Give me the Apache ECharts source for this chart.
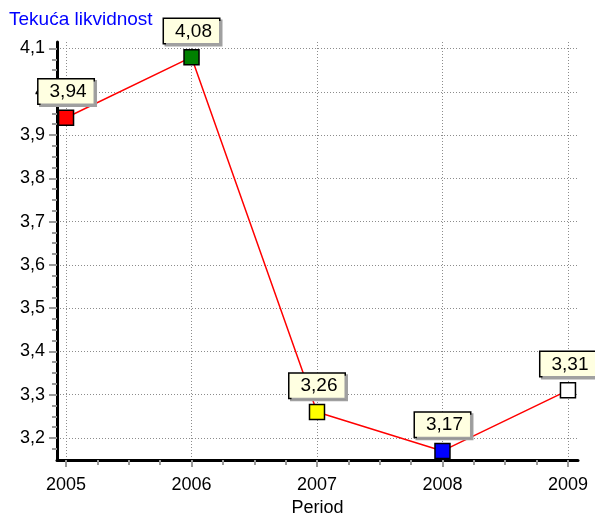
<!doctype html>
<html lang="hr">
<head>
    <meta charset="UTF-8">
    <title>Tekuća likvidnost</title>
    <script src="https://cdn.jsdelivr.net/npm/echarts@6/dist/echarts.min.js"></script>
    <style>
        html, body { margin: 0; padding: 0; background: #fff; }
        #main { width: 595px; height: 515px; }
    </style>
</head>
<body>
<div id="main"></div>
<script type="text/javascript">
    // podaci
    var years = [2005, 2006, 2007, 2008, 2009];
    var values = [3.94, 4.08, 3.26, 3.17, 3.31];
    var pointColors = ['#ff0000', '#008000', '#ffff00', '#0000ff', '#ffffff'];
    var yTicks = [3.2, 3.3, 3.4, 3.5, 3.6, 3.7, 3.8, 3.9, 4.0, 4.1];

    // sitne crtice izmedju glavnih (4 dijela)
    var xMinor = [];
    for (var i = 0; i < years.length - 1; i++) {
        for (var k = 1; k < 4; k++) xMinor.push(years[i] + k / 4);
    }
    var yMinor = [3.175];
    for (var j = 0; j < yTicks.length - 1; j++) {
        for (var m = 1; m < 4; m++) yMinor.push(+(yTicks[j] + m * 0.025).toFixed(3));
    }

    var font = "'Liberation Sans', Arial, sans-serif";
    var comma = function (v) { return String(v).replace('.', ','); };

    var seriesData = [];
    for (var n = 0; n < years.length; n++) {
        seriesData.push({
            value: [years[n], values[n]],
            itemStyle: { color: pointColors[n] }
        });
    }

    var myChart = echarts.init(document.getElementById('main'), null, { renderer: 'canvas' });

    var gridLine = { show: true, lineStyle: { color: '#8c8c8c', width: 1, type: [1, 2] } };

    var option = {
        animation: false,
        backgroundColor: '#fff',
        title: {
            text: 'Tekuća likvidnost',
            left: 9,
            top: 10,
            padding: 0,
            textStyle: { color: '#0000ff', fontSize: 19, fontWeight: 'normal', fontFamily: font }
        },
        grid: { left: 57, right: 17, top: 42, bottom: 55, containLabel: false, outerBoundsMode: 'none' },
        xAxis: [{
            type: 'value',
            position: 'bottom',
            min: 2004.928,
            max: 2009.08,
            name: 'Period',
            nameLocation: 'middle',
            nameGap: 39,
            nameTextStyle: { color: '#000', fontSize: 18, fontFamily: font },
            axisLine: { onZero: false, lineStyle: { color: '#000', width: 3 } },
            axisTick: { customValues: years, length: 7, lineStyle: { color: '#999', width: 2 } },
            axisLabel: {
                customValues: years, margin: 16, color: '#000', fontSize: 18, fontFamily: font,
                formatter: function (v) { return String(v); }
            },
            splitLine: gridLine
        }, {
            type: 'value',
            position: 'bottom',
            min: 2004.928,
            max: 2009.08,
            axisLine: { show: false, onZero: false },
            axisTick: { customValues: xMinor, length: 5, lineStyle: { color: '#999', width: 2 } },
            axisLabel: { show: false },
            splitLine: { show: false }
        }],
        yAxis: [{
            type: 'value',
            position: 'left',
            min: 3.149,
            max: 4.115,
            axisLine: { show: true, onZero: false, lineStyle: { color: '#000', width: 3 } },
            axisTick: { show: true, customValues: yTicks, length: 8, lineStyle: { color: '#999', width: 2 } },
            axisLabel: {
                customValues: yTicks, margin: 12, color: '#000', fontSize: 18, fontFamily: font,
                formatter: function (v) { return comma(+v.toFixed(1)); }
            },
            splitLine: gridLine
        }, {
            type: 'value',
            position: 'left',
            min: 3.149,
            max: 4.115,
            axisLine: { show: false, onZero: false },
            axisTick: { show: true, customValues: yMinor, length: 5, lineStyle: { color: '#999', width: 2 } },
            axisLabel: { show: false },
            splitLine: { show: false }
        }],
        series: [{
            type: 'line',
            xAxisIndex: 0,
            yAxisIndex: 0,
            data: seriesData,
            symbol: 'rect',
            symbolSize: 15,
            showAllSymbol: true,
            lineStyle: { color: '#ff0000', width: 1.5 },
            itemStyle: { borderColor: '#000', borderWidth: 1.5 },
            label: {
                show: true,
                position: 'top',
                distance: 6,
                formatter: function (p) { return comma(p.value[1].toFixed(2)); },
                color: '#000',
                fontSize: 19,
                fontFamily: font,
                backgroundColor: '#ffffe1',
                borderColor: '#000',
                borderWidth: 1.5,
                padding: [3, 7, 2, 11],
                shadowColor: '#a0a0a0',
                shadowOffsetX: 2,
                shadowOffsetY: 2,
                shadowBlur: 0
            },
            emphasis: { disabled: true }
        }]
    };

    myChart.setOption(option);
</script>
</body>
</html>
